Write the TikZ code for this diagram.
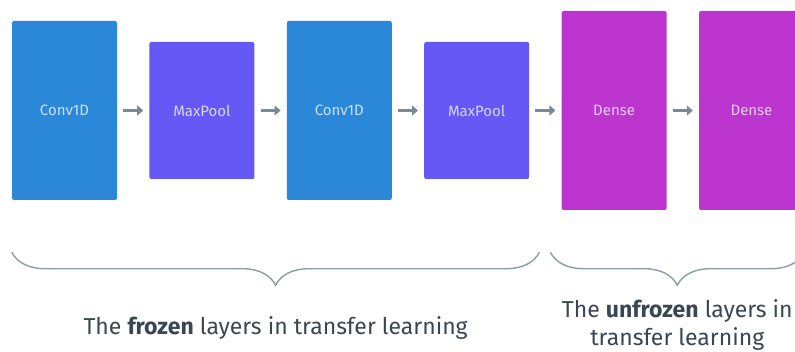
\documentclass[tikz,border=0pt]{standalone}
\usepackage{fontspec}
\setmainfont{Fira Sans}
\usetikzlibrary{positioning,arrows.meta,decorations.pathreplacing}

\definecolor{convblue}{HTML}{2B88D8}
\definecolor{poolviolet}{HTML}{6658F4}
\definecolor{densepurple}{HTML}{BD35CF}
\definecolor{arrowgray}{HTML}{7B8994}
\definecolor{bracegray}{HTML}{8C9BA8}
\definecolor{captiontext}{HTML}{3A4652}

\begin{document}
\begin{tikzpicture}[
		x=1pt, y=1pt,
		node distance=32pt,
		layer/.style={shape=rectangle, rounded corners=2pt,
			minimum width=105pt, inner sep=0pt,
			font=\fontsize{15}{17}\selectfont},
		conv/.style={layer, fill=convblue, minimum height=179pt, text=convblue!25!white},
		pool/.style={layer, fill=poolviolet, minimum height=137pt, text=poolviolet!25!white},
		dense/.style={layer, fill=densepurple, minimum height=199pt, text=densepurple!25!white},
		flow/.style={draw=arrowgray, line width=3.5pt,
			-{Triangle[length=6pt,width=10pt]},
			shorten <=6pt, shorten >=6pt},
		group/.style={draw=bracegray, line width=1.4pt, decorate,
			decoration={brace, mirror, amplitude=33pt}},
		caption/.style={text=captiontext, align=center, inner sep=0pt,
			font=\fontsize{23}{28}\selectfont}]
		\clip (0,0) rectangle (795,351);
		% layers
		\node[conv] (conv1) at (64.5,240.5) {Conv1D};
		\node[pool, right=of conv1] (pool1) {MaxPool};
		\node[conv, right=of pool1] (conv2) {Conv1D};
		\node[pool, right=of conv2] (pool2) {MaxPool};
		\node[dense, right=of pool2] (dense1) {Dense};
		\node[dense, right=of dense1] (dense2) {Dense};
		% arrows
		\draw[flow] (conv1) -- (pool1);
		\draw[flow] (pool1) -- (conv2);
		\draw[flow] (conv2) -- (pool2);
		\draw[flow] (pool2) -- (dense1);
		\draw[flow] (dense1) -- (dense2);
		% braces
		\coordinate (frozen-l) at ([yshift=-52pt]conv1.south west);
		\coordinate (frozen-r) at ([xshift=10pt]pool2.east |- frozen-l);
		\coordinate (unfrozen-l) at ([xshift=-11pt]dense1.west |- frozen-l);
		\coordinate (unfrozen-r) at (dense2.east |- frozen-l);
		\draw[group] (frozen-l) -- node[caption, anchor=north, yshift=-64pt] (frozen)
			{The \textbf{frozen} layers in transfer learning} (frozen-r);
		\draw[group] (unfrozen-l) -- node[caption, anchor=north, yshift=-47pt] (unfrozen)
			{The \textbf{unfrozen} layers in\\transfer learning} (unfrozen-r);
\end{tikzpicture}
\end{document}
